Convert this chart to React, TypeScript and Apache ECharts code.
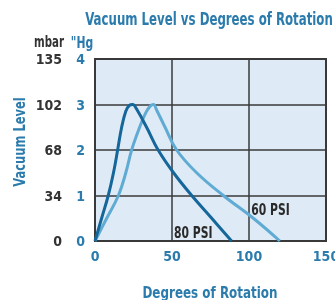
import React, { useEffect, useRef } from "react";
import * as echarts from "echarts";

const titleText = "Vacuum Level vs Degrees of Rotation";
const xName = "Degrees of Rotation";
const yName = "Vacuum Level";
const hgName = '"Hg';
const mbarName = "mbar";
const hgTicks = ["0", "1", "2", "3", "4"];
const mbarTicks = ["0", "34", "68", "102", "135"];

const psi80X = [0, 4.3, 8.6, 12, 14.7, 17.3, 20, 22.3, 24.5, 27, 33.5, 41, 51, 62.8, 75.8, 88.7];
const psi80Y = [0, 0.5, 1, 1.5, 2, 2.5, 2.85, 2.98, 3, 2.9, 2.5, 2, 1.5, 1, 0.5, 0];
const psi60X = [0, 7.6, 15.2, 20, 23.8, 29, 33, 36, 38, 40, 45.5, 53, 66, 83.3, 102.8, 120];
const psi60Y = [0, 0.5, 1, 1.5, 2, 2.5, 2.82, 2.97, 3, 2.88, 2.5, 2, 1.5, 1, 0.5, 0];

const label80 = { text: "80 PSI", at: [51.3, 0.19] };
const label60 = { text: "60 PSI", at: [101.5, 0.69] };

const FONT = "'Liberation Sans Narrow', 'DejaVu Sans Condensed', 'Roboto', sans-serif";
const BLUE = "#2b7bad";
const DARK = "#15669a";
const LIGHT = "#5fabd3";
const GRAY = "#333333";
const LINE = "#3a3a3a";

export default function App() {
  const ref = useRef<HTMLDivElement>(null);
  useEffect(() => {
    if (!ref.current) return;
    const chart = echarts.init(ref.current, null, { renderer: "svg" });
    const pair = (xs: number[], ys: number[]) => xs.map((x, i) => [x, ys[i]]);
    const txt = (
      text: string,
      x: number,
      y: number,
      size: number,
      color: string,
      scaleX: number,
      align: string,
      rotation = 0
    ) => ({
      type: "text",
      x,
      y,
      rotation,
      scaleX,
      z: 10,
      style: {
        text,
        fill: color,
        font: `bold ${size}px ${FONT}`,
        textAlign: align,
        textVerticalAlign: "middle",
      },
    });
    const tickLabel = { color: BLUE, fontFamily: FONT, fontWeight: "bold", fontSize: 14 };
    chart.setOption({
      animation: false,
      grid: {
        left: 95,
        right: 9,
        top: 59,
        bottom: 59,
        show: true,
        backgroundColor: "#deeaf5",
        borderColor: LINE,
        borderWidth: 2,
        outerBoundsMode: "none",
        containLabel: false,
      },
      xAxis: {
        type: "value",
        min: 0,
        max: 150,
        interval: 50,
        axisLine: { show: false },
        axisTick: { show: false },
        axisLabel: { ...tickLabel, margin: 8 },
        splitLine: { show: true, lineStyle: { color: LINE, width: 1.5 } },
      },
      yAxis: [
        {
          type: "value",
          min: 0,
          max: 4,
          interval: 1,
          position: "left",
          axisLine: { show: false },
          axisTick: { show: false },
          axisLabel: { ...tickLabel, margin: 10, formatter: (_v: number, i: number) => hgTicks[i] },
          splitLine: { show: true, lineStyle: { color: LINE, width: 1.5 } },
        },
        {
          type: "value",
          min: 0,
          max: 4,
          interval: 1,
          position: "left",
          offset: 25,
          axisLine: { show: false },
          axisTick: { show: false },
          axisLabel: {
            ...tickLabel,
            color: GRAY,
            margin: 8,
            formatter: (_v: number, i: number) => mbarTicks[i],
          },
          splitLine: { show: false },
        },
      ],
      series: [
        {
          type: "line",
          data: pair(psi80X, psi80Y),
          smooth: 0.4,
          showSymbol: false,
          lineStyle: { color: DARK, width: 3 },
          z: 3,
        },
        {
          type: "line",
          data: pair(psi60X, psi60Y),
          smooth: 0.4,
          showSymbol: false,
          lineStyle: { color: LIGHT, width: 3 },
          z: 2,
        },
      ],
    });
    const p80 = chart.convertToPixel({ gridIndex: 0 }, label80.at) as number[];
    const p60 = chart.convertToPixel({ gridIndex: 0 }, label60.at) as number[];
    chart.setOption({
      graphic: [
        txt(titleText, 209, 19, 17, BLUE, 0.77, "center"),
        txt(yName, 19, 142, 16, BLUE, 0.8, "center", Math.PI / 2),
        txt(xName, 210, 292, 16, BLUE, 0.83, "center"),
        txt(mbarName, 49, 42, 15, GRAY, 0.76, "center"),
        txt(hgName, 82, 42, 15, BLUE, 0.8, "center"),
        txt(label80.text, p80[0], p80[1], 15, "#2a2a2a", 0.8, "left"),
        txt(label60.text, p60[0], p60[1], 15, "#2a2a2a", 0.8, "left"),
      ],
    });
    return () => chart.dispose();
  }, []);
  return (
    <div
      ref={ref}
      style={{ position: "fixed", left: 0, top: 0, width: 335, height: 300 }}
    />
  );
}
